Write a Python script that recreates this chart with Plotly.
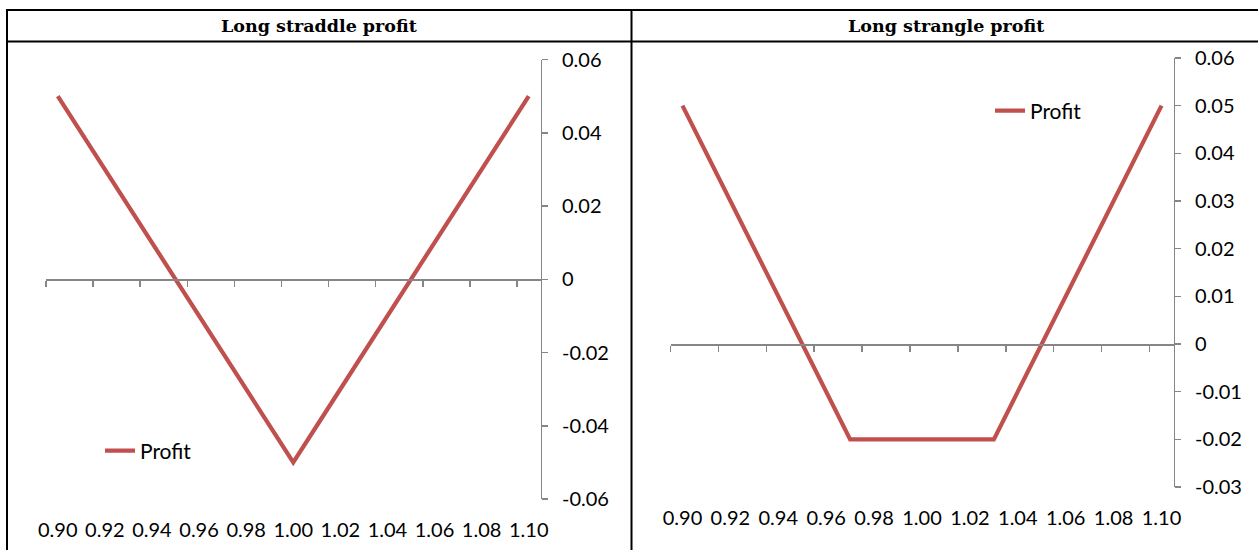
import plotly.graph_objects as go

W, H = 1258, 550

# ---------------- data ----------------
spot = [0.90, 0.91, 0.92, 0.93, 0.94, 0.95, 0.96, 0.97, 0.98, 0.99, 1.00,
        1.01, 1.02, 1.03, 1.04, 1.05, 1.06, 1.07, 1.08, 1.09, 1.10]
straddle_profit = [0.05, 0.04, 0.03, 0.02, 0.01, 0.00, -0.01, -0.02, -0.03, -0.04, -0.05,
                   -0.04, -0.03, -0.02, -0.01, 0.00, 0.01, 0.02, 0.03, 0.04, 0.05]
strangle_profit = [0.05, 0.04, 0.03, 0.02, 0.01, 0.00, -0.01, -0.02, -0.02, -0.02, -0.02,
                   -0.02, -0.02, -0.02, -0.01, 0.00, 0.01, 0.02, 0.03, 0.04, 0.05]
x_label_vals = [0.90, 0.92, 0.94, 0.96, 0.98, 1.00, 1.02, 1.04, 1.06, 1.08, 1.10]
x_label_text = ["0.90", "0.92", "0.94", "0.96", "0.98", "1.00", "1.02", "1.04", "1.06", "1.08", "1.10"]
y1_vals = [0.06, 0.04, 0.02, 0.0, -0.02, -0.04, -0.06]
y1_text = ["0.06", "0.04", "0.02", "0", "-0.02", "-0.04", "-0.06"]
y2_vals = [0.06, 0.05, 0.04, 0.03, 0.02, 0.01, 0.0, -0.01, -0.02, -0.03]
y2_text = ["0.06", "0.05", "0.04", "0.03", "0.02", "0.01", "0", "-0.01", "-0.02", "-0.03"]
titles = ["Long straddle profit", "Long strangle profit"]
series_name = "Profit"

# ---------------- style ----------------
RED = "#C0504D"
AX = "#868686"
FONT = "Lato"
FS = 20

def px_x(p):
    return p / W

def px_y(p):
    return 1 - p / H

half = 0.005  # half category width (categories every 0.01)
boundary_ticks = [round(v - half, 4) for v in x_label_vals]
xr = [spot[0] - half - 1e-7, spot[-1] + half]

fig = go.Figure()
fig.add_trace(go.Scatter(x=spot, y=straddle_profit, mode="lines", name=series_name,
                         line=dict(color=RED, width=4.2), xaxis="x", yaxis="y",
                         legend="legend", hoverinfo="skip"))
fig.add_trace(go.Scatter(x=spot, y=strangle_profit, mode="lines", name=series_name,
                         line=dict(color=RED, width=4.2), xaxis="x2", yaxis="y2",
                         legend="legend2", hoverinfo="skip"))
# invisible carriers so the category-label axes get drawn
fig.add_trace(go.Scatter(x=spot, y=straddle_profit, mode="lines", line=dict(width=0),
                         opacity=0, showlegend=False, hoverinfo="skip", xaxis="x3", yaxis="y"))
fig.add_trace(go.Scatter(x=spot, y=strangle_profit, mode="lines", line=dict(width=0),
                         opacity=0, showlegend=False, hoverinfo="skip", xaxis="x4", yaxis="y2"))

# panel geometry (pixels)
L_x0, L_x1, L_ytop, L_ybot = 46, 540.5, 59.5, 499
R_x0, R_x1, R_ytop, R_ybot = 670.5, 1173.5, 58, 487

def zero_pos(ytop, ybot, lo, hi):
    frac = (0 - lo) / (hi - lo)
    return px_y(ybot) + frac * (px_y(ytop) - px_y(ybot))

tickfont = dict(family=FONT, size=FS, color="#000000")

common_x = dict(showgrid=False, zeroline=False, showline=True, linecolor=AX, linewidth=1.5,
                ticks="outside", ticklen=6, tickwidth=1.5, tickcolor=AX,
                tickmode="array", tickvals=boundary_ticks, showticklabels=False,
                anchor="free", range=xr, fixedrange=True, automargin=False)
common_lab = dict(showgrid=False, zeroline=False, showline=False, ticks="",
                  tickmode="array", tickvals=x_label_vals, ticktext=x_label_text,
                  tickfont=tickfont, range=xr, side="bottom", ticklabelstandoff=17,
                  fixedrange=True, automargin=False)
common_y = dict(showgrid=False, zeroline=False, showline=True, linecolor=AX, linewidth=1.5,
                ticks="outside", ticklen=6, tickwidth=1.5, tickcolor=AX, side="right",
                tickmode="array", tickfont=tickfont, ticklabelstandoff=10, fixedrange=True,
                automargin=False)

fig.update_layout(
    template="none",
    width=W, height=H, margin=dict(l=0, r=0, t=0, b=0, pad=0), autosize=False,
    paper_bgcolor="white", plot_bgcolor="rgba(0,0,0,0)",
    xaxis=dict(common_x, domain=[px_x(L_x0), px_x(L_x1)],
               position=zero_pos(L_ytop, L_ybot, -0.06, 0.06)),
    yaxis=dict(common_y, domain=[px_y(L_ybot), px_y(L_ytop)], range=[-0.06, 0.06],
               anchor="x", tickvals=y1_vals, ticktext=y1_text),
    xaxis3=dict(common_lab, overlaying="x", anchor="y"),
    xaxis2=dict(common_x, domain=[px_x(R_x0), px_x(R_x1)],
                position=zero_pos(R_ytop, R_ybot, -0.03, 0.06)),
    yaxis2=dict(common_y, domain=[px_y(R_ybot), px_y(R_ytop)], range=[-0.03, 0.06],
                anchor="x2", tickvals=y2_vals, ticktext=y2_text),
    xaxis4=dict(common_lab, overlaying="x2", anchor="y2"),
    legend=dict(x=px_x(100), y=px_y(451), xanchor="left", yanchor="middle",
                font=dict(family=FONT, size=21, color="#000000"),
                bgcolor="rgba(0,0,0,0)", borderwidth=0),
    legend2=dict(x=px_x(990), y=px_y(111), xanchor="left", yanchor="middle",
                 font=dict(family=FONT, size=21, color="#000000"),
                 bgcolor="rgba(0,0,0,0)", borderwidth=0),
    showlegend=True,
)

# table borders
border = dict(color="#000000", width=2)
shapes = [
    dict(type="line", xref="paper", yref="paper", x0=px_x(6), x1=px_x(1258), y0=px_y(10), y1=px_y(10), line=border),
    dict(type="line", xref="paper", yref="paper", x0=px_x(6), x1=px_x(1258), y0=px_y(41.5), y1=px_y(41.5), line=border),
    dict(type="line", xref="paper", yref="paper", x0=px_x(7), x1=px_x(7), y0=px_y(9), y1=px_y(550), line=border),
    dict(type="line", xref="paper", yref="paper", x0=px_x(631.5), x1=px_x(631.5), y0=px_y(9), y1=px_y(550), line=border),
]
fig.update_layout(shapes=shapes)

# header cell titles
for t, cx in zip(titles, [319, 946]):
    fig.add_annotation(text="<b>%s</b>" % t, x=px_x(cx), y=px_y(25.5), xref="paper", yref="paper",
                       showarrow=False, xanchor="center", yanchor="middle",
                       font=dict(family="DejaVu Serif", size=17.5, color="#000000"))

fig.write_html("out.html", config={"displayModeBar": False, "staticPlot": True},
               post_script="document.body.style.margin='0';document.body.style.overflow='hidden';")
